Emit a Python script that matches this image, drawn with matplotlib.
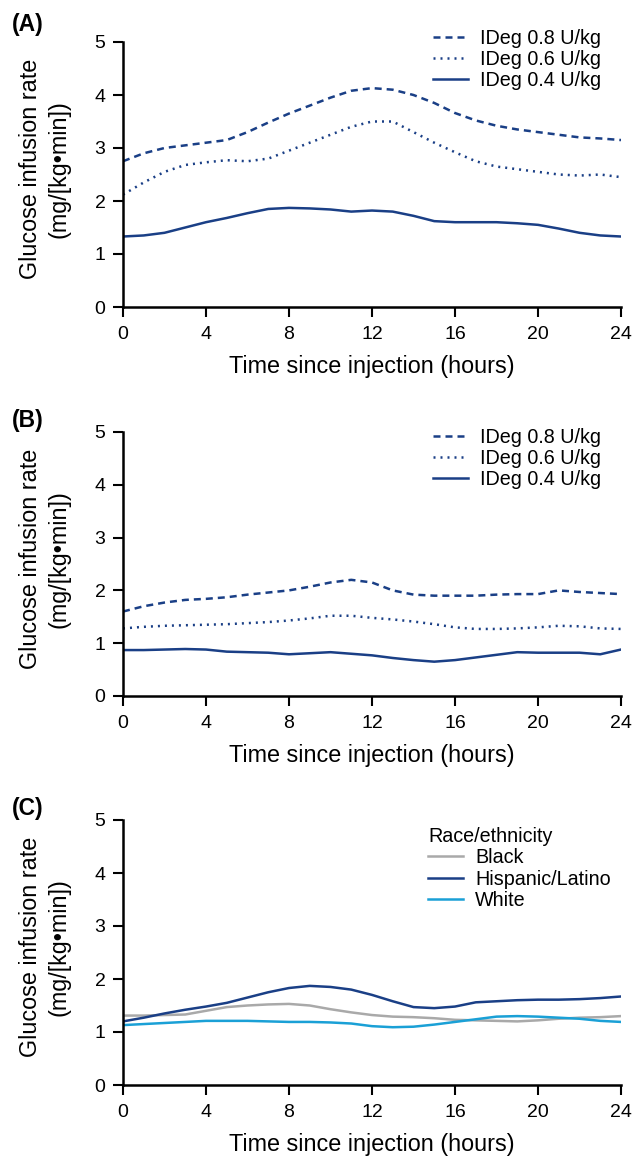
import numpy as np
import matplotlib
matplotlib.use("Agg")
import matplotlib.pyplot as plt

plt.rcParams['font.family'] = ['Liberation Sans', 'DejaVu Sans']

hours = [0, 1, 2, 3, 4, 5, 6, 7, 8, 9, 10, 11, 12, 13, 14, 15, 16, 17, 18, 19, 20, 21, 22, 23, 24]

# Panel A
a_08 = [2.75, 2.9, 3.0, 3.05, 3.1, 3.15, 3.3, 3.48, 3.65, 3.8, 3.95, 4.08, 4.13, 4.1, 4.0, 3.85, 3.66, 3.52, 3.42, 3.35, 3.3, 3.25, 3.2, 3.18, 3.15]
a_06 = [2.12, 2.35, 2.55, 2.68, 2.73, 2.77, 2.75, 2.8, 2.95, 3.1, 3.25, 3.4, 3.5, 3.5, 3.3, 3.1, 2.92, 2.75, 2.65, 2.6, 2.55, 2.5, 2.48, 2.5, 2.45]
a_04 = [1.33, 1.35, 1.4, 1.5, 1.6, 1.68, 1.77, 1.85, 1.87, 1.86, 1.84, 1.8, 1.82, 1.8, 1.72, 1.62, 1.6, 1.6, 1.6, 1.58, 1.55, 1.48, 1.4, 1.35, 1.33]

# Panel B
b_08 = [1.6, 1.7, 1.77, 1.82, 1.84, 1.87, 1.92, 1.96, 2.0, 2.07, 2.15, 2.2, 2.15, 2.0, 1.92, 1.9, 1.9, 1.9, 1.92, 1.93, 1.93, 2.0, 1.97, 1.95, 1.93]
b_06 = [1.28, 1.31, 1.33, 1.34, 1.35, 1.36, 1.38, 1.4, 1.43, 1.47, 1.52, 1.52, 1.48, 1.45, 1.41, 1.36, 1.3, 1.27, 1.27, 1.28, 1.3, 1.33, 1.32, 1.28, 1.27]
b_04 = [0.87, 0.87, 0.88, 0.89, 0.88, 0.84, 0.83, 0.82, 0.79, 0.81, 0.83, 0.8, 0.77, 0.72, 0.68, 0.65, 0.68, 0.73, 0.78, 0.83, 0.82, 0.82, 0.82, 0.79, 0.88]

# Panel C
c_black = [1.31, 1.31, 1.32, 1.33, 1.4, 1.47, 1.5, 1.52, 1.53, 1.5, 1.43, 1.37, 1.32, 1.29, 1.28, 1.26, 1.23, 1.22, 1.21, 1.2, 1.22, 1.25, 1.27, 1.28, 1.3]
c_hisp = [1.2, 1.27, 1.35, 1.42, 1.48, 1.55, 1.65, 1.75, 1.83, 1.87, 1.85, 1.8, 1.7, 1.58, 1.47, 1.45, 1.48, 1.56, 1.58, 1.6, 1.61, 1.61, 1.62, 1.64, 1.67]
c_white = [1.13, 1.15, 1.17, 1.19, 1.21, 1.21, 1.21, 1.2, 1.19, 1.19, 1.18, 1.16, 1.11, 1.09, 1.1, 1.14, 1.19, 1.24, 1.29, 1.3, 1.29, 1.27, 1.25, 1.21, 1.19]

dose_labels = ['IDeg 0.8 U/kg', 'IDeg 0.6 U/kg', 'IDeg 0.4 U/kg']
race_labels = ['Black', 'Hispanic/Latino', 'White']
xticks = [0, 4, 8, 12, 16, 20, 24]
yticks = [0, 1, 2, 3, 4, 5]

NAVY = '#1a3f86'
GRAY = '#a9a9a9'
CYAN = '#1aa0d6'

W, H = 633, 1156
fig = plt.figure(figsize=(W / 100, H / 100), dpi=100)

LEFT, RIGHT = 123, 621

def make_ax(top_px, bot_px):
    return fig.add_axes([LEFT / W, 1 - bot_px / H, (RIGHT - LEFT) / W, (bot_px - top_px) / H])

def style(ax, label, label_y_px):
    ax.set_xlim(0, 24)
    ax.set_ylim(0, 5)
    ax.set_xticks(xticks)
    ax.set_yticks(yticks)
    for s in ['top', 'right']:
        ax.spines[s].set_visible(False)
    for s in ['left', 'bottom']:
        ax.spines[s].set_linewidth(1.8)
    ax.tick_params(width=1.5, length=7, labelsize=14)
    ax.tick_params(axis='x', pad=7)
    ax.tick_params(axis='y', pad=5.6)
    ax.set_xlabel('Time since injection (hours)', fontsize=16.8, labelpad=8)
    ax.set_ylabel('Glucose infusion rate\n(mg/[kg\u2022min])', fontsize=16.8, linespacing=1.3)
    ax.yaxis.set_label_coords(-0.105, 0.52)
    fig.text(12 / W, 1 - label_y_px / H, label, fontsize=16.5, fontweight='bold', va='center', ha='left')

dash = (0, (2.8, 2.0))
dot = (0, (0.8, 2.0))
LW = 1.8

def dose_legend(ax, top_axes):
    ax.legend(loc='upper left', bbox_to_anchor=((433 - LEFT) / (RIGHT - LEFT), top_axes),
              frameon=False, fontsize=14.2, handlelength=1.78, handletextpad=0.6,
              labelspacing=0.1, borderaxespad=0, borderpad=0)

ax = make_ax(42, 307)
ax.plot(hours, a_08, color=NAVY, lw=LW, linestyle=dash, label=dose_labels[0])
ax.plot(hours, a_06, color=NAVY, lw=LW, linestyle=dot, label=dose_labels[1])
ax.plot(hours, a_04, color=NAVY, lw=LW, linestyle='-', label=dose_labels[2])
style(ax, '(A)', 25)
dose_legend(ax, 1.049)

ax = make_ax(432, 696)
ax.plot(hours, b_08, color=NAVY, lw=LW, linestyle=dash, label=dose_labels[0])
ax.plot(hours, b_06, color=NAVY, lw=LW, linestyle=dot, label=dose_labels[1])
ax.plot(hours, b_04, color=NAVY, lw=LW, linestyle='-', label=dose_labels[2])
style(ax, '(B)', 420)
dose_legend(ax, 1.015)

ax = make_ax(820, 1085)
ax.plot(hours, c_black, color=GRAY, lw=LW, label=race_labels[0])
ax.plot(hours, c_hisp, color=NAVY, lw=LW, label=race_labels[1])
ax.plot(hours, c_white, color=CYAN, lw=LW, label=race_labels[2])
style(ax, '(C)', 808)
ax.legend(loc='upper left', bbox_to_anchor=((428 - LEFT) / (RIGHT - LEFT), 0.974),
          frameon=False, fontsize=14.2, title='Race/ethnicity', title_fontsize=14.2,
          handlelength=1.78, handletextpad=0.6, labelspacing=0.12, borderaxespad=0,
          borderpad=0, alignment='left')

fig.savefig('out.png', dpi=100)
